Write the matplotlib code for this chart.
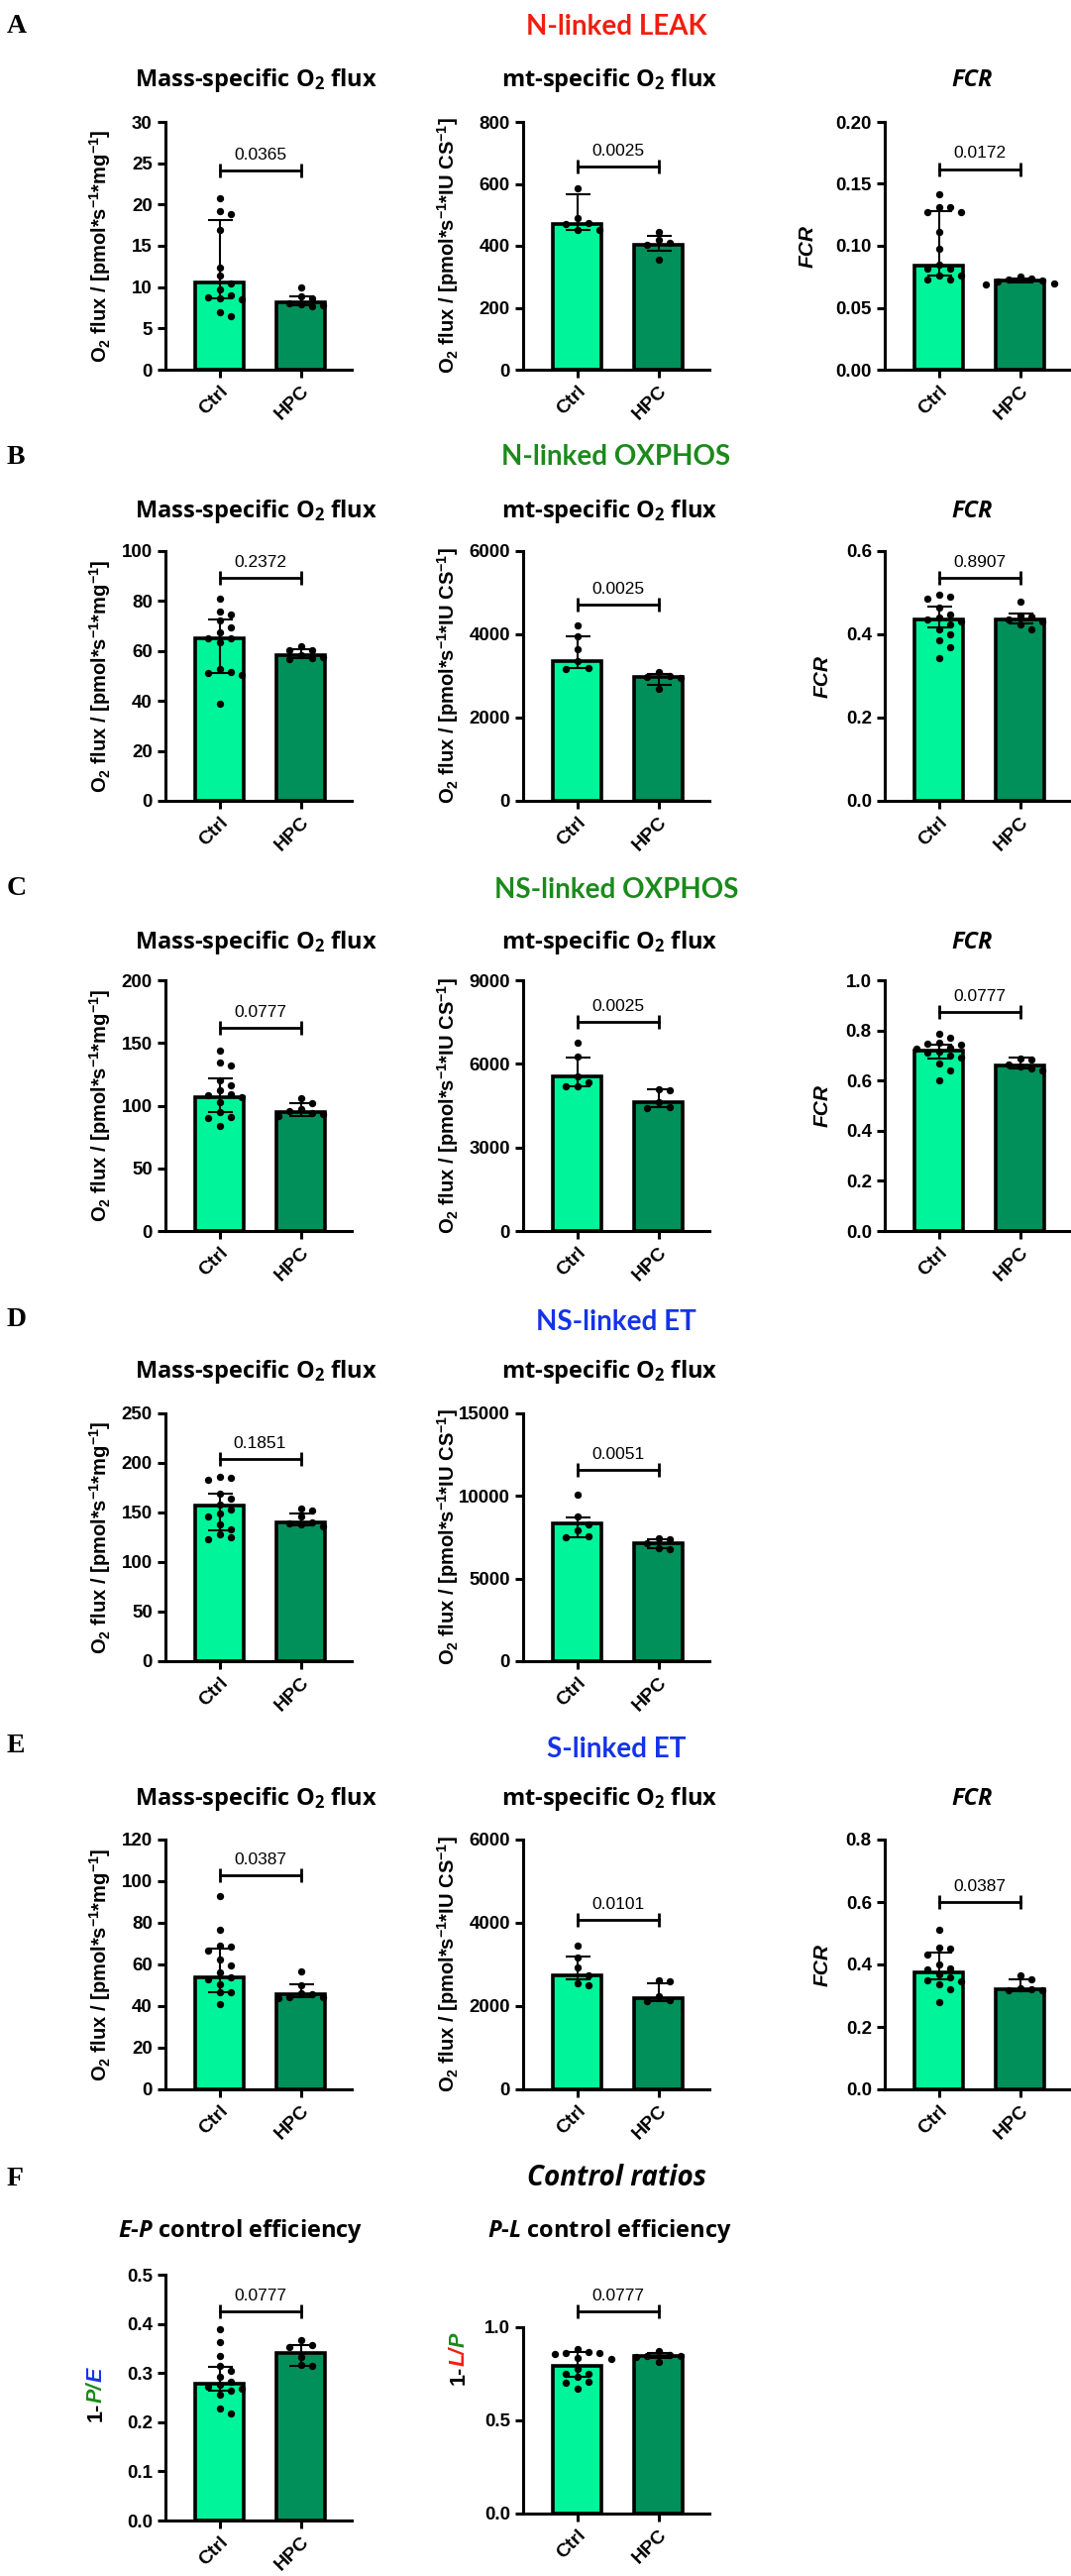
import matplotlib.pyplot as plt
from matplotlib.ticker import MultipleLocator

W, H = 1081, 2599

groups = ['Ctrl', 'HPC']
bar_colors = ['#00f49a', '#02905a']

# A  N-linked LEAK
a_mass_ctrl = [20.8, 19.2, 18.8, 16.9, 12.4, 11.4, 10.5, 9.7, 9.0, 8.8, 8.7, 8.5, 7.0, 6.5]
a_mass_hpc = [10.0, 8.9, 8.7, 8.1, 7.9, 7.8, 7.7]
a_mass_median = [10.6, 8.2]
a_mass_iqr = [(8.7, 18.1), (7.8, 8.9)]
a_mass_p = ('0.0365', 24.1)

a_mt_ctrl = [587, 490, 473, 470, 452, 450]
a_mt_hpc = [445, 418, 410, 403, 356]
a_mt_median = [470, 403]
a_mt_iqr = [(452, 566), (384, 432)]
a_mt_p = ('0.0025', 656)

a_fcr_ctrl = [0.142, 0.131, 0.131, 0.127, 0.127, 0.111, 0.098, 0.085, 0.082, 0.082,
              0.076, 0.076, 0.073, 0.073]
a_fcr_hpc = [0.075, 0.074, 0.073, 0.072, 0.071, 0.070, 0.069]
a_fcr_median = [0.084, 0.072]
a_fcr_iqr = [(0.076, 0.128), (0.0705, 0.0735)]
a_fcr_p = ('0.0172', 0.162)

# B  N-linked OXPHOS
b_mass_ctrl = [81.0, 75.8, 74.6, 72.2, 69.4, 67.5, 65.2, 65.0, 63.5, 52.8, 51.5, 51.0, 50.2, 38.7]
b_mass_hpc = [62.0, 60.4, 60.2, 58.5, 57.6, 57.2, 56.8]
b_mass_median = [65.1, 58.5]
b_mass_iqr = [(51.2, 72.6), (57.0, 60.7)]
b_mass_p = ('0.2372', 89.3)

b_mt_ctrl = [4210, 3950, 3640, 3360, 3200, 3170]
b_mt_hpc = [3100, 3000, 2980, 2960, 2700]
b_mt_median = [3360, 2980]
b_mt_iqr = [(3180, 3950), (2790, 3050)]
b_mt_p = ('0.0025', 4714)

b_fcr_ctrl = [0.495, 0.490, 0.485, 0.465, 0.448, 0.440, 0.435, 0.430, 0.425, 0.412,
              0.400, 0.385, 0.369, 0.343]
b_fcr_hpc = [0.479, 0.446, 0.442, 0.435, 0.430, 0.424, 0.412]
b_fcr_median = [0.436, 0.436]
b_fcr_iqr = [(0.417, 0.467), (0.426, 0.450)]
b_fcr_p = ('0.8907', 0.536)

# C  NS-linked OXPHOS
c_mass_ctrl = [144, 134, 132, 120, 116, 112, 109, 108, 107, 103, 95, 91, 90, 84]
c_mass_hpc = [106, 102, 97, 96, 94, 93, 92]
c_mass_median = [107, 95]
c_mass_iqr = [(95, 122), (92, 102)]
c_mass_p = ('0.0777', 162)

c_mt_ctrl = [6770, 6260, 5550, 5320, 5210, 5200]
c_mt_hpc = [5080, 5040, 4620, 4450, 4420]
c_mt_median = [5550, 4620]
c_mt_iqr = [(5180, 6240), (4450, 5070)]
c_mt_p = ('0.0025', 7512)

c_fcr_ctrl = [0.786, 0.771, 0.752, 0.748, 0.744, 0.733, 0.728, 0.715, 0.711, 0.700,
              0.692, 0.668, 0.640, 0.600]
c_fcr_hpc = [0.688, 0.684, 0.666, 0.655, 0.650, 0.642]
c_fcr_median = [0.720, 0.660]
c_fcr_iqr = [(0.688, 0.743), (0.648, 0.690)]
c_fcr_p = ('0.0777', 0.873)

# D  NS-linked ET
d_mass_ctrl = [186, 185, 183, 169, 164, 158, 153, 149, 146, 138, 133, 128, 125, 123]
d_mass_hpc = [154, 152, 146, 140, 139, 138, 136]
d_mass_median = [157, 140]
d_mass_iqr = [(132, 169), (137, 149)]
d_mass_p = ('0.1851', 204)

d_mt_ctrl = [10100, 8750, 8300, 7950, 7550, 7500]
d_mt_hpc = [7420, 7380, 7150, 6850, 6800]
d_mt_median = [8350, 7120]
d_mt_iqr = [(7530, 8730), (6830, 7410)]
d_mt_p = ('0.0051', 11594)

# E  S-linked ET
e_mass_ctrl = [92.9, 76.7, 69.2, 68.5, 66.7, 62.4, 59.5, 56.2, 54.0, 53.0, 50.5, 46.8, 46.5, 41.0]
e_mass_hpc = [56.7, 50.0, 46.0, 45.5, 44.5, 44.2, 44.0]
e_mass_median = [53.8, 45.7]
e_mass_iqr = [(46.7, 67.6), (44.2, 50.5)]
e_mass_p = ('0.0387', 103)

e_mt_ctrl = [3450, 3170, 2930, 2750, 2540, 2500]
e_mt_hpc = [2620, 2590, 2230, 2150, 2120]
e_mt_median = [2740, 2190]
e_mt_iqr = [(2640, 3190), (2130, 2550)]
e_mt_p = ('0.0101', 4071)

e_fcr_ctrl = [0.511, 0.454, 0.450, 0.432, 0.400, 0.386, 0.383, 0.368, 0.359, 0.350,
              0.347, 0.335, 0.321, 0.280]
e_fcr_hpc = [0.365, 0.352, 0.324, 0.321, 0.319, 0.317]
e_fcr_median = [0.375, 0.321]
e_fcr_iqr = [(0.352, 0.438), (0.315, 0.352)]
e_fcr_p = ('0.0387', 0.60)

# F  control ratios
f_ep_ctrl = [0.389, 0.363, 0.335, 0.315, 0.305, 0.293, 0.282, 0.276, 0.272, 0.268,
             0.265, 0.256, 0.228, 0.218]
f_ep_hpc = [0.367, 0.356, 0.353, 0.333, 0.316, 0.314]
f_ep_median = [0.278, 0.341]
f_ep_iqr = [(0.265, 0.312), (0.315, 0.357)]
f_ep_p = ('0.0777', 0.425)

f_pl_ctrl = [0.883, 0.865, 0.862, 0.860, 0.855, 0.835, 0.830, 0.777, 0.752, 0.748,
             0.734, 0.707, 0.702, 0.670]
f_pl_hpc = [0.872, 0.852, 0.848, 0.845, 0.843, 0.814]
f_pl_median = [0.793, 0.846]
f_pl_iqr = [(0.734, 0.867), (0.835, 0.862)]
f_pl_p = ('0.0777', 1.085)

plt.rcParams['font.family'] = 'Liberation Sans'
plt.rcParams['font.weight'] = 'bold'
plt.rcParams['mathtext.fontset'] = 'custom'
plt.rcParams['mathtext.bf'] = 'Liberation Sans:bold'
plt.rcParams['mathtext.sf'] = 'Open Sans:bold'
plt.rcParams['mathtext.it'] = 'Open Sans:italic:bold'
plt.rcParams['axes.linewidth'] = 2.2

fig = plt.figure(figsize=(W / 100, H / 100), dpi=100)

col_x = [167, 528, 893]
ax_w = 188
unit_px = 82.0
sub_font = dict(family='Open Sans', weight='bold', size=17)


def ftext(x, y, s, **kw):
    return fig.text(x / W, 1 - y / H, s, **kw)


def swarm_offsets(values, ppu, step=0.14, dot=8.0):
    # spread dots sideways when they would overlap (GraphPad-like scatter)
    placed = []
    offsets = [0.0] * len(values)
    for i in sorted(range(len(values)), key=lambda k: -values[k]):
        y = values[i] * ppu
        k = 0
        while True:
            off = ((k + 1) // 2) * step * (1 if k % 2 else -1)
            if all((off * unit_px - px) ** 2 + (y - py) ** 2 >= dot ** 2 for px, py in placed):
                break
            k += 1
        placed.append((off * unit_px, y))
        offsets[i] = off
    return offsets


def panel(left, top, bottom, ctrl, hpc, median, iqr, p, ymax, ystep, width=ax_w):
    ax = fig.add_axes([left / W, 1 - bottom / H, width / W, (bottom - top) / H])
    ppu = (bottom - top) / ymax
    ax.bar([0, 1], median, width=0.6, color=bar_colors, edgecolor='black',
           linewidth=2.6, zorder=2)
    lo = [m - q[0] for m, q in zip(median, iqr)]
    hi = [q[1] - m for m, q in zip(median, iqr)]
    ax.errorbar([0, 1], median, yerr=[lo, hi], fmt='none', ecolor='black',
                elinewidth=1.5, capsize=9, capthick=1.5, zorder=3)
    for xi, vals in enumerate((ctrl, hpc)):
        offs = swarm_offsets(vals, ppu)
        ax.scatter([xi + o for o in offs], vals, s=28, c='black', linewidths=0,
                   zorder=4, clip_on=False)
    ax.set_xlim(-0.665, (width - 54.5) / unit_px)
    ax.set_ylim(0, ymax)
    ax.yaxis.set_major_locator(MultipleLocator(ystep))
    ax.spines[['top', 'right']].set_visible(False)
    ax.tick_params(width=2.2, length=6, labelsize=13.5)
    ax.set_xticks([0, 1])
    ax.set_xticklabels(groups, rotation=45, ha='right', rotation_mode='anchor', fontsize=14)
    label, yl = p
    ax.plot([0, 1], [yl, yl], color='black', lw=2.0, marker='|', markersize=10,
            markeredgewidth=2.0, clip_on=False, zorder=5)
    ax.annotate(label, xy=(0.5, yl), xytext=(0, 8), textcoords='offset points',
                ha='center', va='baseline', fontsize=12.5, fontweight='normal',
                annotation_clip=False)
    return ax


mass_label = r'O$_\mathbf{2}$ flux / [pmol*s$^\mathbf{-1}$*mg$^\mathbf{-1}$]'
mt_label = r'O$_\mathbf{2}$ flux / [pmol*s$^\mathbf{-1}$*IU CS$^\mathbf{-1}$]'
mass_title = r'Mass-specific O$_\mathsf{2}$ flux'
mt_title = r'mt-specific O$_\mathsf{2}$ flux'

rows = [
    # letter, section title, colour, letter/section baseline, subtitle baseline, axes top, bottom, panels
    ('A', 'N-linked LEAK', '#f01e0f', 33, 35, 87, 123, 373,
     [(a_mass_ctrl, a_mass_hpc, a_mass_median, a_mass_iqr, a_mass_p, 30, 5),
      (a_mt_ctrl, a_mt_hpc, a_mt_median, a_mt_iqr, a_mt_p, 800, 200),
      (a_fcr_ctrl, a_fcr_hpc, a_fcr_median, a_fcr_iqr, a_fcr_p, 0.2, 0.05)]),
    ('B', 'N-linked OXPHOS', '#1b8a1b', 468, 469, 522, 556, 808,
     [(b_mass_ctrl, b_mass_hpc, b_mass_median, b_mass_iqr, b_mass_p, 100, 20),
      (b_mt_ctrl, b_mt_hpc, b_mt_median, b_mt_iqr, b_mt_p, 6000, 2000),
      (b_fcr_ctrl, b_fcr_hpc, b_fcr_median, b_fcr_iqr, b_fcr_p, 0.6, 0.2)]),
    ('C', 'NS-linked OXPHOS', '#1b8a1b', 903, 906, 957, 989, 1242,
     [(c_mass_ctrl, c_mass_hpc, c_mass_median, c_mass_iqr, c_mass_p, 200, 50),
      (c_mt_ctrl, c_mt_hpc, c_mt_median, c_mt_iqr, c_mt_p, 9000, 3000),
      (c_fcr_ctrl, c_fcr_hpc, c_fcr_median, c_fcr_iqr, c_fcr_p, 1.0, 0.2)]),
    ('D', 'NS-linked ET', '#1433e8', 1338, 1342, 1390, 1426, 1676,
     [(d_mass_ctrl, d_mass_hpc, d_mass_median, d_mass_iqr, d_mass_p, 250, 50),
      (d_mt_ctrl, d_mt_hpc, d_mt_median, d_mt_iqr, d_mt_p, 15000, 5000)]),
    ('E', 'S-linked ET', '#1433e8', 1768, 1773, 1821, 1856, 2108,
     [(e_mass_ctrl, e_mass_hpc, e_mass_median, e_mass_iqr, e_mass_p, 120, 20),
      (e_mt_ctrl, e_mt_hpc, e_mt_median, e_mt_iqr, e_mt_p, 6000, 2000),
      (e_fcr_ctrl, e_fcr_hpc, e_fcr_median, e_fcr_iqr, e_fcr_p, 0.8, 0.2)]),
]

title_x = [258, 615, 981]
for letter, sect, colr, lb, sb, tb, top, bottom, specs in rows:
    ftext(7, lb, letter, ha='left', va='baseline', family='Liberation Serif',
          weight='bold', size=20)
    ftext(622, sb, sect, ha='center', va='baseline', family='Lato', weight='bold',
          size=20, color=colr)
    for ci, spec in enumerate(specs):
        panel(col_x[ci], top, bottom, *spec)
        yc = (top + bottom) / 2
        if ci == 0:
            ftext(title_x[0], tb, mass_title, ha='center', va='baseline', **sub_font)
            ftext(101, yc, mass_label, rotation=90, ha='center', va='center', size=14.5)
        elif ci == 1:
            ftext(title_x[1], tb, mt_title, ha='center', va='baseline', **sub_font)
            ftext(452, yc, mt_label, rotation=90, ha='center', va='center', size=14.5)
        else:
            ftext(title_x[2], tb, 'FCR', ha='center', va='baseline', style='italic',
                  **sub_font)
            ftext(815 if letter == 'A' else 830, yc, 'FCR', rotation=90, ha='center',
                  va='center', size=15, style='italic')

# F  control ratios
ftext(7, 2205, 'F', ha='left', va='baseline', family='Liberation Serif', weight='bold', size=20)
ftext(622, 2205, 'Control ratios', ha='center', va='baseline', family='Open Sans',
      weight='bold', style='italic', size=20)
panel(col_x[0], 2295, 2543, f_ep_ctrl, f_ep_hpc, f_ep_median, f_ep_iqr, f_ep_p, 0.5, 0.1)
panel(col_x[1], 2348, 2536, f_pl_ctrl, f_pl_hpc, f_pl_median, f_pl_iqr, f_pl_p, 1.0, 0.5)
ftext(243, 2257, r'$\mathit{E}$-$\mathit{P}$ control efficiency', ha='center',
      va='baseline', **sub_font)
ftext(615, 2257, r'$\mathit{P}$-$\mathit{L}$ control efficiency', ha='center',
      va='baseline', **sub_font)


def stacked_ylabel(xc, yc, parts, size=15.5):
    r = fig.canvas.get_renderer()
    lens = []
    for txt, col, sty in parts:
        t = fig.text(0, 0, txt, fontsize=size, fontweight='bold', style=sty)
        lens.append(t.get_window_extent(r).width)
        t.remove()
    y = yc + sum(lens) / 2
    for (txt, col, sty), L in zip(parts, lens):
        ftext(xc, y, txt, rotation=90, ha='center', va='bottom', color=col,
              fontsize=size, fontweight='bold', style=sty)
        y -= L


stacked_ylabel(97, 2416, [('1-', 'black', 'normal'), ('P/', '#1b8a1b', 'italic'),
                          ('E', '#1433e8', 'italic')])
stacked_ylabel(463, 2380, [('1-', 'black', 'normal'), ('L/', '#f01e0f', 'italic'),
                           ('P', '#1b8a1b', 'italic')])

fig.savefig('out.png', dpi=100)
